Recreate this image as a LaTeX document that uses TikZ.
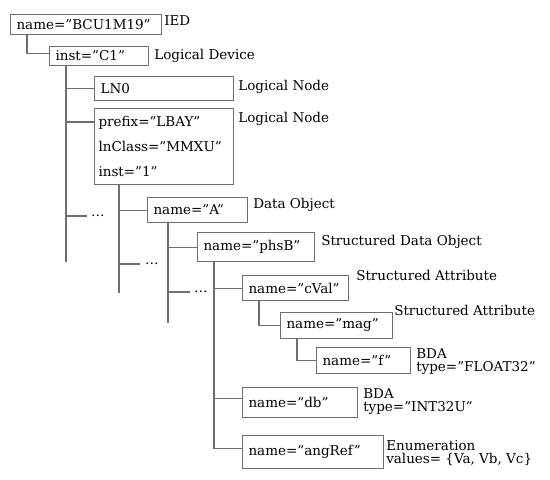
\documentclass[tikz,border=0pt]{standalone}
\usepackage{fontspec}
\setmainfont{DejaVu Serif}
\usetikzlibrary{positioning}
\definecolor{treegray}{HTML}{6E6E6E}
\tikzset{
  elem/.style={draw=treegray, line width=1.1pt, anchor=north west, inner xsep=6pt, inner ysep=2pt, align=left, text width=#1, font=\fontsize{13.5}{15}\selectfont},
  tag/.style={anchor=north west, inner sep=0pt, align=left, font=\fontsize{13.5}{13.5}\selectfont},
  more/.style={anchor=west, inner sep=0pt, font=\fontsize{13.5}{15}\selectfont},
  branch/.style={draw=treegray, line width=1.1pt}
}

\begin{document}
\begin{tikzpicture}[x=1pt, y=-1pt]
  \useasboundingbox (0,0) rectangle (550,480);
  % elements of the model
  \node[elem=139pt, minimum height=20pt] (ied) at (10,14) {name=”BCU1M19”};
  \node[elem=87pt, minimum height=19pt] (c1) at (49,46) {inst=”C1”};
  \node[elem=127pt, minimum height=24pt] (ln0) at (94,76) {LN0};
  \node[elem=131pt, inner xsep=4pt, minimum height=76pt, font=\fontsize{13.5}{25}\selectfont] (prefix) at (94,108) {prefix=”LBAY”\\lnClass=”MMXU”\\inst=”1”};
  \node[elem=88pt, minimum height=25pt] (a) at (147,197) {name=”A”};
  \node[elem=105pt, minimum height=29pt] (phsb) at (197,232) {name=”phsB”};
  \node[elem=94pt, minimum height=25pt] (cval) at (242,275) {name=”cVal”};
  \node[elem=100pt, minimum height=26pt] (mag) at (280,312) {name=”mag”};
  \node[elem=82pt, minimum height=26pt] (f) at (316,347) {name=”f”};
  \node[elem=103pt, minimum height=30pt] (db) at (242,387) {name=”db”};
  \node[elem=129pt, minimum height=33pt] (angref) at (242,435) {name=”angRef”};
  % kinds
  \node[tag] (ied-k) at ([shift={(2,1)}]ied.north east) {IED};
  \node[tag] (c1-k) at ([shift={(5,3)}]c1.north east) {Logical Device};
  \node[tag] (ln0-k) at ([shift={(4,4)}]ln0.north east) {Logical Node};
  \node[tag] (prefix-k) at ([shift={(4,4)}]prefix.north east) {Logical Node};
  \node[tag] (a-k) at ([shift={(5,1)}]a.north east) {Data Object};
  \node[tag] (phsb-k) at ([shift={(6,3)}]phsb.north east) {Structured Data Object};
  \node[tag] (cval-k) at ([shift={(7,-5)}]cval.north east) {Structured Attribute};
  \node[tag] (mag-k) at ([shift={(1,-7)}]mag.north east) {Structured Attribute};
  \node[tag] (f-k) at ([shift={(5,1)}]f.north east) {BDA\\type=”FLOAT32”};
  \node[tag] (db-k) at ([shift={(5,1)}]db.north east) {BDA\\type=”INT32U”};
  \node[tag] (angref-k) at ([shift={(2,5)}]angref.north east) {Enumeration\\values= \{Va, Vb, Vc\}};
  % omitted siblings
  \node[more] (dots1) at (91,216) {\dots};
  \node[more] (dots2) at (145,264) {\dots};
  \node[more] (dots3) at (194,292) {\dots};
  % trunks
  \coordinate (ied-t) at ([xshift=17pt]ied.south west);
  \coordinate (c1-t) at ([xshift=17pt]c1.south west);
  \coordinate (prefix-t) at ([xshift=25pt]prefix.south west);
  \coordinate (a-t) at ([xshift=21pt]a.south west);
  \coordinate (phsb-t) at ([xshift=17pt]phsb.south west);
  \coordinate (cval-t) at ([xshift=17pt]cval.south west);
  \coordinate (mag-t) at ([xshift=17pt]mag.south west);
  \coordinate (c1-e) at (c1-t |- 0,262);
  \coordinate (prefix-e) at (prefix-t |- 0,293);
  \coordinate (a-e) at (a-t |- 0,323);
  \draw[branch] (c1-t) -- (c1-e);
  \draw[branch] (prefix-t) -- (prefix-e);
  \draw[branch] (a-t) -- (a-e);
  % branches
  \draw[branch] (ied-t) |- ([yshift=3pt]c1.west);
  \draw[branch] (c1-t) |- (ln0.west);
  \draw[branch] (c1-t) |- ([yshift=-14pt]prefix.north west);
  \draw[branch] (c1-t) |- ([xshift=-4pt]dots1.west);
  \draw[branch] (prefix-t) |- (a.west);
  \draw[branch] (prefix-t) |- ([xshift=-5pt]dots2.west);
  \draw[branch] (a-t) |- (phsb.west);
  \draw[branch] (a-t) |- ([xshift=-4pt]dots3.west);
  \draw[branch] (phsb-t) |- (cval.west);
  \draw[branch] (phsb-t) |- ([yshift=4pt]db.west);
  \draw[branch] (phsb-t) |- ([yshift=4pt]angref.west);
  \draw[branch] (cval-t) |- (mag.west);
  \draw[branch] (mag-t) |- (f.west);
\end{tikzpicture}
\end{document}
